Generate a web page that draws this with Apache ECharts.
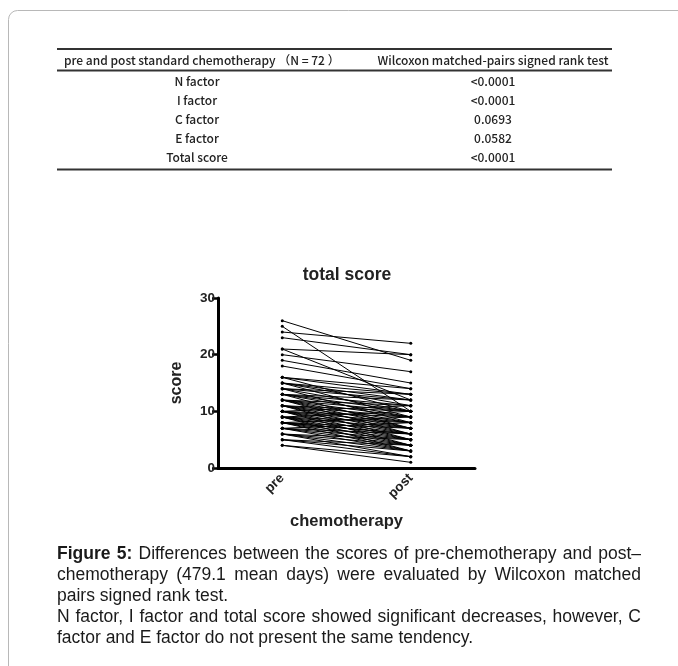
<!DOCTYPE html>
<html>
<head>
<meta charset="utf-8">
<script src="https://cdn.jsdelivr.net/npm/echarts@6/dist/echarts.min.js"></script>
<style>
html,body{margin:0;padding:0;background:#fff;}
#chart{width:678px;height:666px;}
</style>
</head>
<body>
<div id="chart"></div>
<script>
// ---- data ----
const categories = ['pre', 'post'];
const preScores = [26, 25, 24, 23, 21, 21, 20, 19, 18, 16, 16, 15, 15, 15, 14, 14, 14, 13, 13, 13,
  13, 12, 12, 12, 12, 11, 11, 11, 11, 11, 10, 10, 10, 10, 10, 9, 9, 9, 9, 9,
  8, 8, 8, 8, 8, 8, 7, 7, 7, 7, 7, 6, 6, 6, 6, 5, 5, 5, 4, 4,
  12, 11, 10, 9, 13, 14, 12, 16, 15, 10, 9, 8];
const postScores = [19, 10, 22, 20, 20, 12, 17, 15, 14, 13, 10, 12, 9, 11, 13, 10, 8, 12, 9, 11,
  7, 10, 8, 11, 6, 9, 10, 7, 8, 5, 8, 9, 6, 7, 11, 7, 8, 5, 6, 10,
  6, 5, 7, 4, 9, 6, 5, 4, 6, 3, 8, 4, 3, 5, 2, 3, 2, 4, 1, 2,
  9, 6, 5, 4, 10, 12, 7, 14, 13, 4, 3, 3];
const yTicks = [0, 10, 20, 30];
const chartTitle = 'total score';
const yName = 'score';
const xName = 'chemotherapy';
const tableHeader = ['pre and post standard chemotherapy （N = 72 ）', 'Wilcoxon matched-pairs signed rank test'];
const tableFactors = ['N factor', 'I factor', 'C factor', 'E factor', 'Total score'];
const tablePValues = ['<0.0001', '<0.0001', '0.0693', '0.0582', '<0.0001'];
const captionLines = [
  [['Figure 5:', true], ['Differences between the scores of pre-chemotherapy and post–', false]],
  [['chemotherapy (479.1 mean days) were evaluated by Wilcoxon matched', false]],
  [['pairs signed rank test.', false]],
  [['N factor, I factor and total score showed significant decreases, however, C', false]],
  [['factor and E factor do not present the same tendency.', false]]
];
const captionJustify = [true, true, false, true, false];

// ---- layout ----
const chart = echarts.init(document.getElementById('chart'), null, {renderer: 'canvas', width: 678, height: 666});

const graphics = [];
// outer frame
graphics.push({type: 'rect', shape: {x: 8.5, y: 10.5, width: 720, height: 720, r: 9},
  style: {fill: 'none', stroke: '#b8b8b8', lineWidth: 1}, silent: true});

// table
const tFont = '"Noto Sans CJK JP", sans-serif';
const tColor = '#222';
const tSize = 12;
const tLeft = 57, tRight = 612;
function hrule(y, w) {
  graphics.push({type: 'line', shape: {x1: tLeft, y1: y, x2: tRight, y2: y},
    style: {stroke: '#333', lineWidth: w}, silent: true});
}
hrule(49, 2.2);
hrule(70.5, 1.8);
hrule(169.5, 1.8);
function tText(str, x, y, align) {
  graphics.push({type: 'text', x: x, y: y, style: {text: str, font: '500 ' + tSize + 'px ' + tFont, fill: tColor, textVerticalAlign: 'middle', textAlign: align}, silent: true});
}
tText(tableHeader[0], 64, 60, 'left');
tText(tableHeader[1], 493, 60, 'center');
tableFactors.forEach((f, i) => {
  const y = 81 + i * 19;
  tText(f, 197, y, 'center');
  tText(tablePValues[i], 493, y, 'center');
});

// caption with justification
const cSize = 17.5;
const cFamily = '"Liberation Sans", Arial, sans-serif';
const cLeft = 57, cRight = 641;
const mctx = document.createElement('canvas').getContext('2d');
captionLines.forEach((parts, li) => {
  const y = 554 + li * 21;
  const words = [];
  parts.forEach(([txt, bold]) => txt.split(' ').forEach(w => words.push({w, bold})));
  words.forEach(o => { mctx.font = (o.bold ? 'bold ' : '') + cSize + 'px ' + cFamily; o.width = mctx.measureText(o.w).width; });
  mctx.font = cSize + 'px ' + cFamily;
  const spaceW = mctx.measureText(' ').width;
  const total = words.reduce((s, o) => s + o.width, 0);
  let gap = spaceW;
  if (captionJustify[li] && words.length > 1) gap = (cRight - cLeft - total) / (words.length - 1);
  let x = cLeft;
  words.forEach(o => {
    graphics.push({type: 'text', x: x, y: y, style: {text: o.w, font: (o.bold ? 'bold ' : '') + cSize + 'px ' + cFamily, fill: '#1a1a1a', textVerticalAlign: 'middle', textAlign: 'left'}, silent: true});
    x += o.width + gap;
  });
});

const axisFont = '"Liberation Sans", Arial, sans-serif';
const series = preScores.map((p, i) => ({
  type: 'line',
  data: [p, postScores[i]],
  symbol: 'circle',
  symbolSize: 3,
  showSymbol: true,
  lineStyle: {color: '#000', width: 1},
  itemStyle: {color: '#000'},
  emphasis: {disabled: true},
  silent: true,
  animation: false,
  z: 2
}));

chart.setOption({
  animation: false,
  backgroundColor: '#fff',
  title: {
    text: chartTitle, left: 342, top: 261, textAlign: 'center',
    textStyle: {fontFamily: axisFont, fontSize: 17.5, fontWeight: 'bold', color: '#222'}
  },
  grid: {left: 218, top: 298, width: 257, height: 170, containLabel: false},
  xAxis: {
    type: 'category', data: categories, boundaryGap: true,
    name: xName, nameLocation: 'middle', nameGap: 45,
    nameTextStyle: {fontFamily: axisFont, fontSize: 16.5, fontWeight: 'bold', color: '#222'},
    axisLine: {lineStyle: {color: '#000', width: 3}},
    axisTick: {alignWithLabel: true, length: 7, lineStyle: {color: '#000', width: 2.5}},
    axisLabel: {rotate: 45, fontFamily: axisFont, fontSize: 13.5, fontWeight: 'bold', color: '#222', margin: 8},
    splitLine: {show: false}
  },
  yAxis: {
    type: 'value', min: 0, max: 30, interval: 10,
    name: yName, nameLocation: 'middle', nameGap: 33, nameRotate: 90,
    nameTextStyle: {fontFamily: axisFont, fontSize: 16, fontWeight: 'bold', color: '#222'},
    axisLine: {show: true, lineStyle: {color: '#000', width: 3}},
    axisTick: {show: true, length: 6, lineStyle: {color: '#000', width: 2.5}},
    axisLabel: {fontFamily: axisFont, fontSize: 13.5, fontWeight: 'bold', color: '#222', margin: 3,
      formatter: v => yTicks.includes(v) ? String(v) : ''},
    splitLine: {show: false}
  },
  series: series,
  graphic: graphics
});
</script>
</body>
</html>
